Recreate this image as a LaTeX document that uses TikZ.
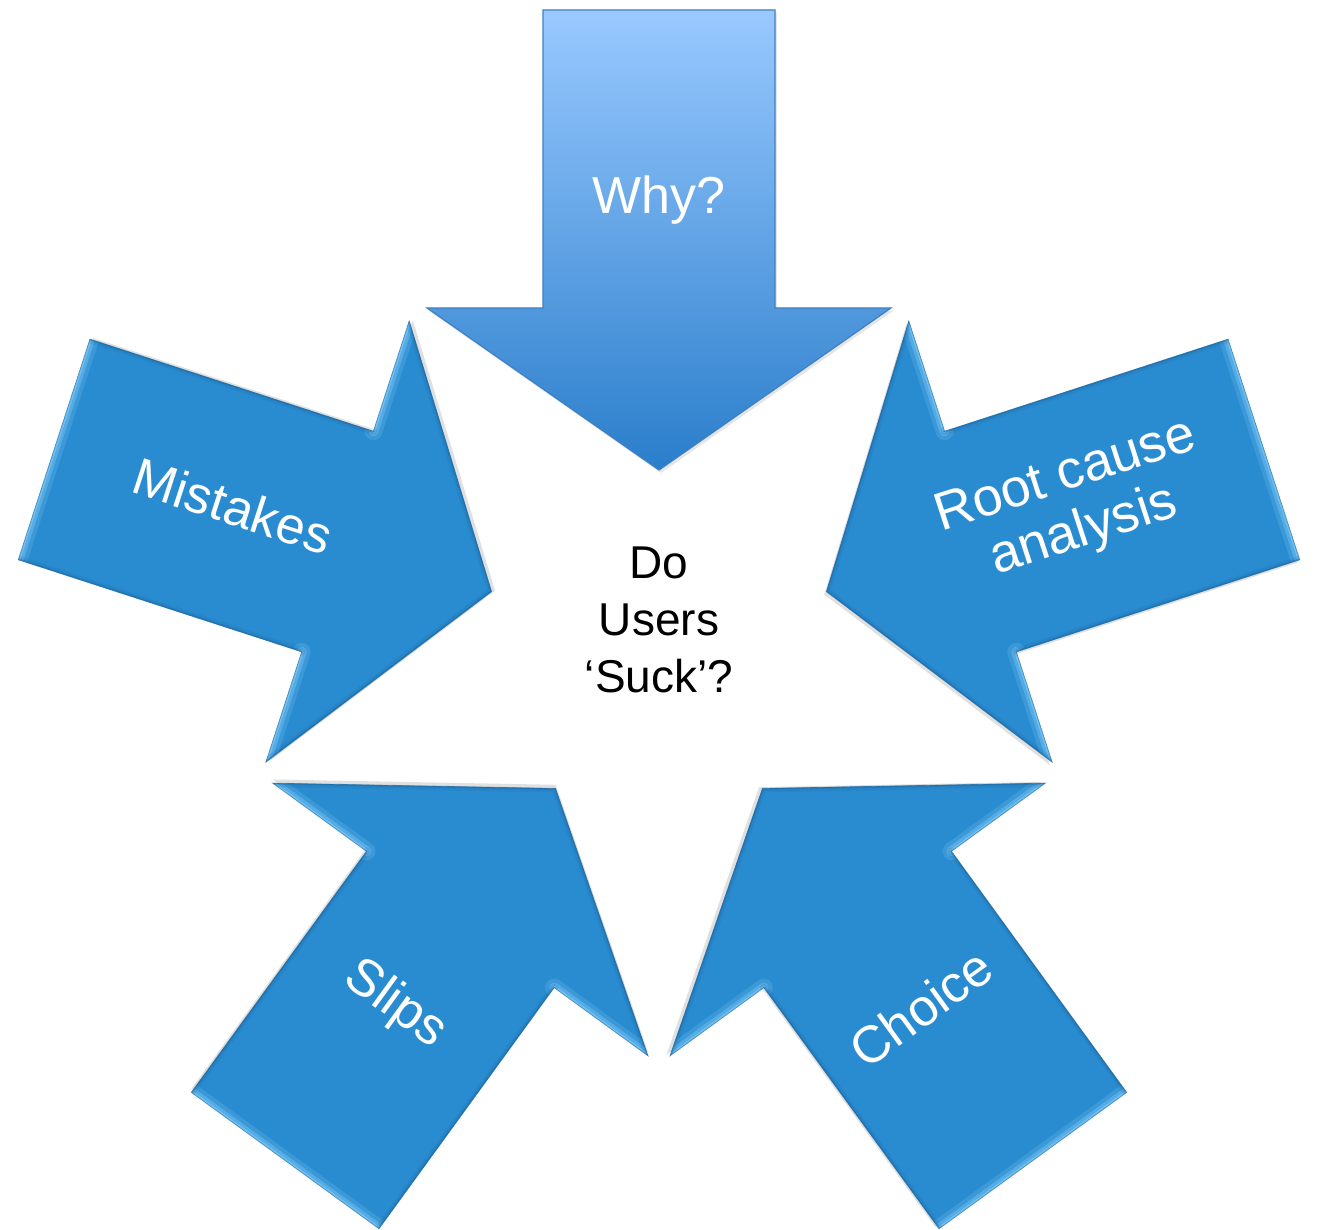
\documentclass[tikz,border=0pt]{standalone}
\usepackage{fontspec}
\setmainfont{Liberation Sans}
\definecolor{arrowblue}{HTML}{2A8CD0}
\definecolor{bevlight}{HTML}{8FD6FF}
\definecolor{bevdark}{HTML}{17609A}
\definecolor{topA}{HTML}{99C9FF}
\definecolor{topB}{HTML}{2A7ECB}
\definecolor{topline}{HTML}{3F80C4}
\tikzset{
  arrowshape/.style={insert path={(543,10) -- (775,10) -- (775,308) -- (891,308) -- (659,470) -- (427,308) -- (543,308) -- cycle}},
  lbl/.style={text=white, font=\fontsize{52}{58}\selectfont, align=center, inner sep=0pt},
  lightedge/.style={draw=bevlight, line cap=round},
  darkedge/.style={draw=bevdark, line cap=round}
}
\begin{document}
\begin{tikzpicture}[x=1pt,y=-1pt]
\useasboundingbox (0,0) rectangle (1317,1230);
\fill[white] (0,0) rectangle (1317,1230);
% four bevelled arrows
\foreach \t in {72,144,216,288}{
  \begin{scope}[rotate around={\t:(659,646)}]
    \fill[black, opacity=0.12, xshift=2pt, yshift=-3pt, arrowshape];
    \fill[arrowblue, arrowshape];
    \begin{scope}
      \clip[arrowshape];
      \foreach \w/\o in {18/0.18, 10/0.3, 4/0.45}{
        \draw[lightedge, line width=\w, opacity=\o] (543,10) -- (775,10);
        \draw[lightedge, line width=\w, opacity=\o] (775,308) -- (891,308);
        \draw[lightedge, line width=\w, opacity=\o] (427,308) -- (543,308);
      }
      \foreach \w/\o in {8/0.15, 3/0.35}{
        \draw[darkedge, line width=\w, opacity=\o] (775,10) -- (775,308);
        \draw[darkedge, line width=\w, opacity=\o] (891,308) -- (659,470) -- (427,308);
        \draw[darkedge, line width=\w, opacity=\o] (543,308) -- (543,10);
      }
    \end{scope}
    \draw[bevdark, line width=0.8pt, opacity=0.5, arrowshape];
  \end{scope}
}
% top gradient arrow
\fill[black, opacity=0.10, xshift=2pt, yshift=-3pt, arrowshape];
\shade[top color=topA, bottom color=topB, arrowshape];
\draw[topline, line width=1.2pt, arrowshape];
% labels
\node[lbl] (why) at (659,200) {Why?};
\node[lbl, rotate=-18] (mistakes) at (233,506) {Mistakes};
\node[lbl, rotate=18, font=\fontsize{53.5}{58}\selectfont] (root) at (1075,505) {Root cause\\analysis};
\node[lbl, rotate=-36] (slips) at (395,1005) {Slips};
\node[lbl, rotate=36] (choice) at (921,1008) {Choice};
% centre text
\node[text=black, font=\fontsize{46}{57}\selectfont, align=center, inner sep=0pt] (centre) at (659,620) {Do\\Users\\‘Suck’?};
\end{tikzpicture}
\end{document}
